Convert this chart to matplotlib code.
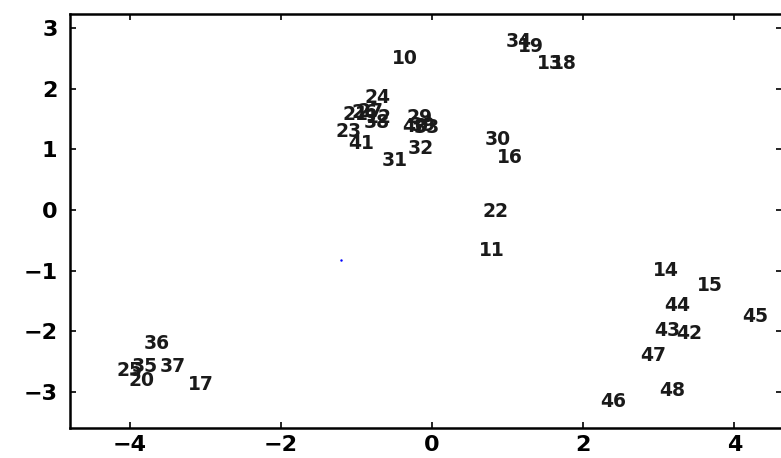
import matplotlib
matplotlib.use("Agg")
import matplotlib.pyplot as plt

labels = ["10", "34", "19", "13", "18",
          "24", "21", "26", "27", "12", "38", "23", "41",
          "29", "40", "39", "33", "32", "31",
          "30", "16", "22", "11",
          "14", "15", "44", "45", "43", "42", "47", "48", "46",
          "36", "25", "35", "37", "20", "17"]
xs = [-0.53, 0.97, 1.14, 1.39, 1.57,
      -0.89, -1.18, -1.06, -0.98, -0.88, -0.90, -1.28, -1.11,
      -0.34, -0.40, -0.30, -0.24, -0.32, -0.66,
      0.70, 0.86, 0.67, 0.62,
      2.92, 3.51, 3.07, 4.10, 2.94, 3.23, 2.76, 3.00, 2.22,
      -3.82, -4.17, -3.97, -3.60, -4.01, -3.23]
ys = [2.49, 2.77, 2.70, 2.42, 2.42,
      1.85, 1.57, 1.61, 1.63, 1.53, 1.45, 1.30, 1.10,
      1.52, 1.37, 1.40, 1.36, 1.02, 0.81,
      1.17, 0.87, -0.03, -0.66,
      -1.00, -1.25, -1.58, -1.75, -1.98, -2.04, -2.39, -2.98, -3.16,
      -2.19, -2.64, -2.57, -2.57, -2.80, -2.88]
dot_x = [-1.20]
dot_y = [-0.82]
xticks = [-4, -2, 0, 2, 4]
yticks = [-3, -2, -1, 0, 1, 2, 3]

plt.rcParams['font.family'] = ['DejaVu Sans']
fig = plt.figure(figsize=(7.81, 4.58), dpi=100)
ax = fig.add_axes([70/781, 30/458, 712/781, 414/458])
for lab, x, y in zip(labels, xs, ys):
    ax.text(x, y, lab, ha='left', va='center', fontsize=13.5,
            fontweight='bold', color='#1a1a1a')
ax.plot(dot_x, dot_y, '.', color='blue', markersize=1.5)
ax.set_xlim(-4.79, 4.63)
ax.set_ylim(-3.59, 3.23)
ax.set_xticks(xticks)
ax.set_yticks(yticks)
ax.set_xticklabels(["\u2212" + str(-t) if t < 0 else str(t) for t in xticks])
ax.set_yticklabels(["\u2212" + str(-t) if t < 0 else str(t) for t in yticks])
ax.tick_params(direction='in', length=4, width=1.2, top=True, right=True,
               labelsize=16)
ax.tick_params(axis='x', pad=5)
ax.tick_params(axis='y', pad=9)
for lab in ax.get_xticklabels() + ax.get_yticklabels():
    lab.set_fontweight('bold')
for s in ax.spines.values():
    s.set_linewidth(1.8)
fig.savefig("out.png", dpi=100)
